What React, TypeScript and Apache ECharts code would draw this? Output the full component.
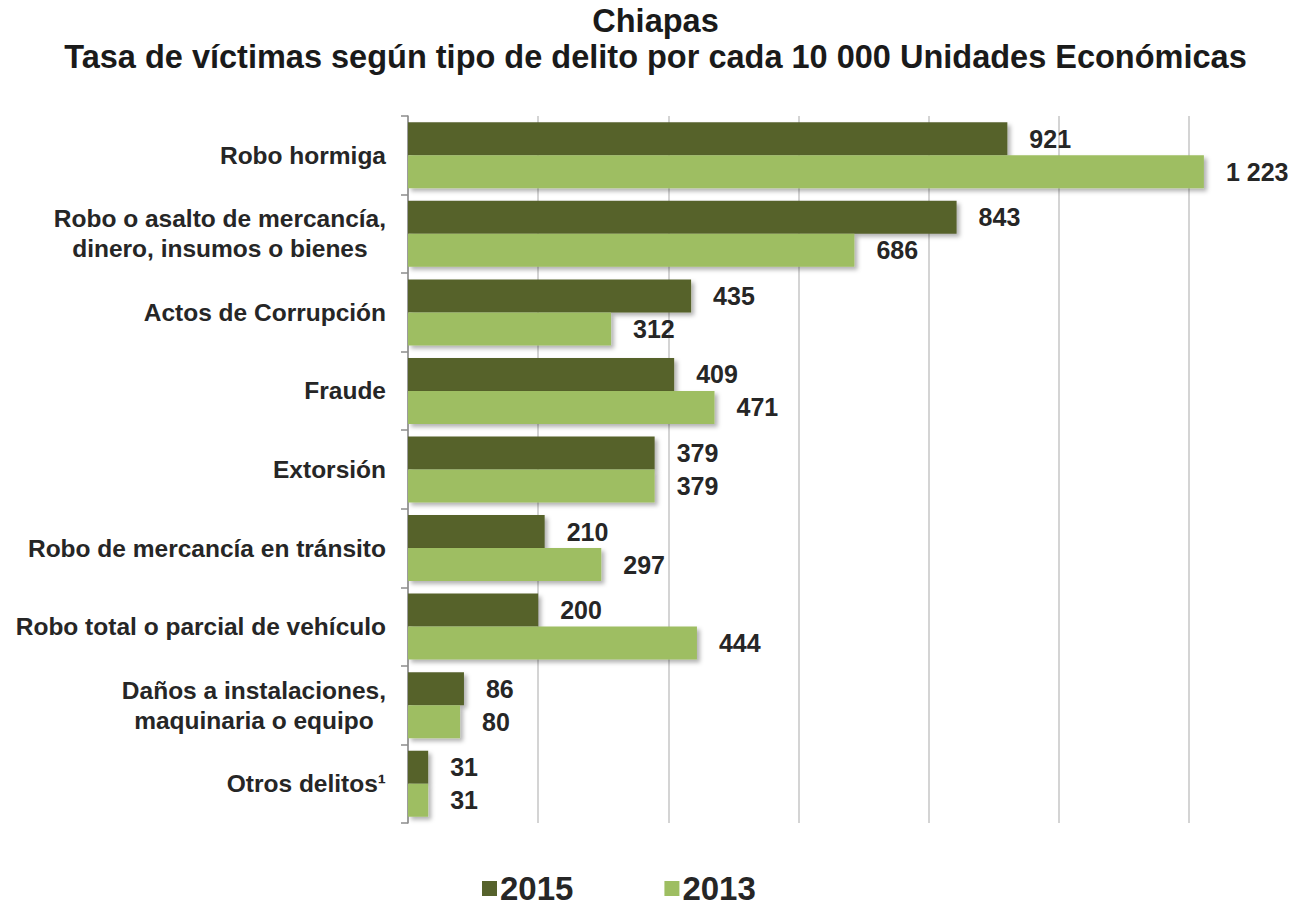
import React, { useEffect, useRef } from "react";
import * as echarts from "echarts";

const categories = [
  "Robo hormiga",
  "Robo o asalto de mercancía,\ndinero, insumos o bienes",
  "Actos de Corrupción",
  "Fraude",
  "Extorsión",
  "Robo de mercancía en tránsito",
  "Robo total o parcial de vehículo",
  "Daños a instalaciones,\nmaquinaria o equipo",
  "Otros delitos¹",
];
const values2015 = [921, 843, 435, 409, 379, 210, 200, 86, 31];
const values2013 = [1223, 686, 312, 471, 379, 297, 444, 80, 31];
const seriesNames = ["2015", "2013"];

const FONT = "'Liberation Sans', Arial, sans-serif";
const TEXT = "#262626";

const fmt = (v: number) => String(v).replace(/\B(?=(\d{3})+(?!\d))/g, " ");

export default function App() {
  const ref = useRef<HTMLDivElement>(null);
  useEffect(() => {
    if (!ref.current) return;
    const chart = echarts.init(ref.current, null, { renderer: "svg" });
    const shadow = {
      shadowBlur: 4,
      shadowOffsetX: 3,
      shadowOffsetY: 3,
      shadowColor: "rgba(0,0,0,0.3)",
    };
    const label = {
      show: true,
      position: "right" as const,
      distance: 22,
      fontFamily: FONT,
      fontWeight: "bold" as const,
      fontSize: 25,
      color: TEXT,
      formatter: (p: any) => fmt(p.value),
    };
    chart.setOption({
      animation: false,
      backgroundColor: "#ffffff",
      title: {
        text: "Chiapas\nTasa de víctimas según tipo de delito por cada 10 000 Unidades Económicas",
        left: "center",
        top: 3,
        padding: 0,
        textStyle: {
          fontFamily: FONT,
          fontWeight: "bold",
          fontSize: 32.5,
          lineHeight: 36,
          color: "#1a1a1a",
        },
      },
      legend: {
        data: seriesNames,
        left: 482,
        top: 872,
        padding: 0,
        itemWidth: 15,
        itemHeight: 15,
        itemGap: 91,
        icon: "rect",
        textStyle: {
          fontFamily: FONT,
          fontWeight: "bold",
          fontSize: 33,
          lineHeight: 33,
          color: TEXT,
          padding: [0, 0, 0, -2],
        },
      },
      grid: { left: 408, top: 116, bottom: 84, right: 57 },
      xAxis: {
        type: "value",
        min: 0,
        max: 1300,
        interval: 200,
        axisLabel: { show: false },
        axisLine: { show: false },
        axisTick: { show: false },
        splitLine: {
          show: true,
          showMaxLine: false,
          lineStyle: { color: "#c6c6c6", width: 1.5 },
        },
      },
      yAxis: {
        type: "category",
        inverse: true,
        data: categories,
        axisLine: { show: true, lineStyle: { color: "#8c8c8c", width: 1.5 } },
        axisTick: { show: true, length: 7, lineStyle: { color: "#8c8c8c", width: 1.5 } },
        axisLabel: {
          margin: 22,
          fontFamily: FONT,
          fontWeight: "bold",
          fontSize: 24.5,
          lineHeight: 30,
          color: TEXT,
          formatter: (v: string) =>
            v.includes("\n")
              ? v
                  .split("\n")
                  .map((l) => `{c|${l}}`)
                  .join("\n")
              : v,
          rich: {
            c: {
              align: "center",
              fontFamily: FONT,
              fontWeight: "bold",
              fontSize: 24.5,
              lineHeight: 30,
              color: TEXT,
            },
          },
        },
      },
      series: [
        {
          name: seriesNames[0],
          type: "bar",
          data: values2015,
          barGap: "0%",
          barCategoryGap: "16%",
          itemStyle: { color: "#56622C", ...shadow },
          label,
        },
        {
          name: seriesNames[1],
          type: "bar",
          data: values2013,
          barGap: "0%",
          barCategoryGap: "16%",
          itemStyle: { color: "#9EBE62", ...shadow },
          label,
        },
      ],
    });
    return () => chart.dispose();
  }, []);
  return (
    <div
      ref={ref}
      style={{ position: "fixed", left: 0, top: 0, width: 1311, height: 907 }}
    />
  );
}
